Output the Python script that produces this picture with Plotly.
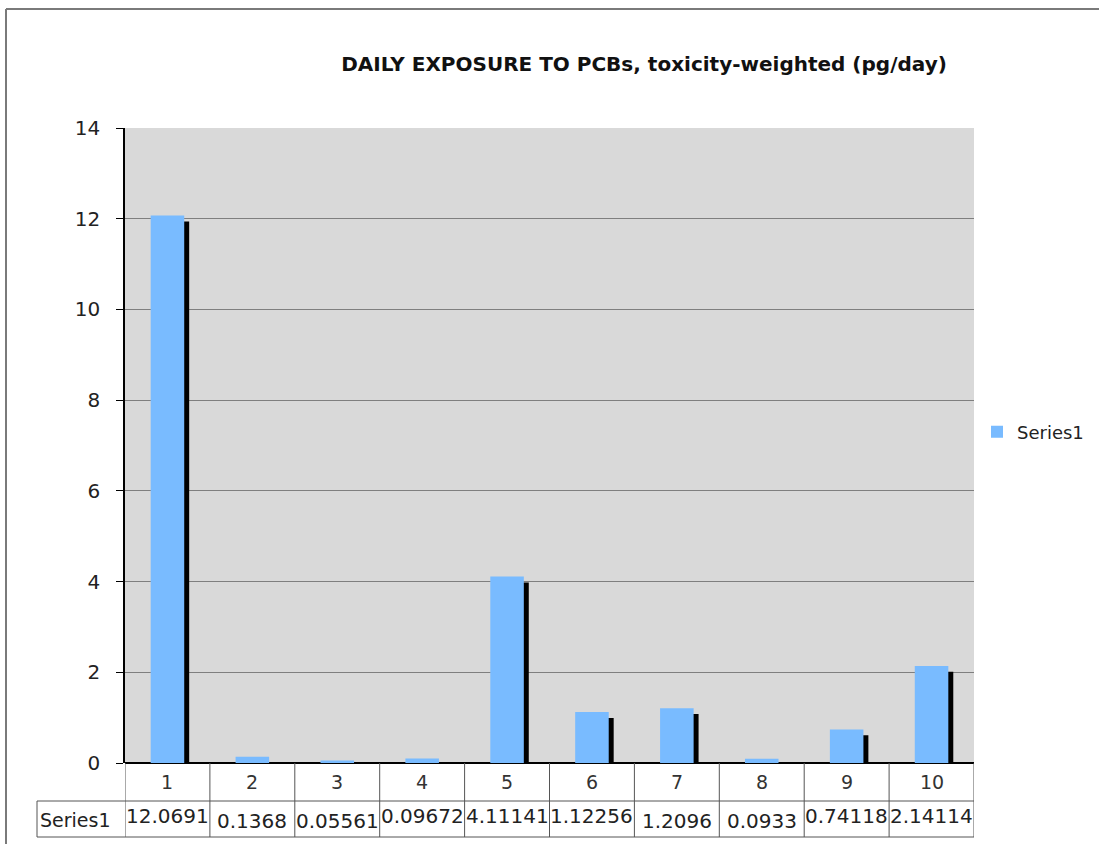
import plotly.graph_objects as go

categories = ["1", "2", "3", "4", "5", "6", "7", "8", "9", "10"]
values = [12.06913, 0.1368, 0.05561, 0.096727, 4.111416, 1.122564, 1.2096, 0.0933, 0.741184, 2.141148]
cell_labels = ["12.0691", "0.1368", "0.05561", "0.09672", "4.11141", "1.12256", "1.2096", "0.0933", "0.74118", "2.14114"]
wrapped = [True, False, False, True, True, True, False, False, True, True]
series_name = "Series1"
title_text = "DAILY EXPOSURE TO PCBs, toxicity-weighted (pg/day)"

W, H = 1099, 844
L, R, T, B = 125, 974, 128, 763
FONT = "DejaVu Sans"

def px(p):
    return (p - L) / (R - L)

def py(p):
    return (B - p) / (B - T)

xs = list(range(1, len(categories) + 1))
shadow_shift = 0.13

fig = go.Figure()
fig.add_trace(go.Bar(
    x=xs, y=values, base=-shadow_shift, width=0.395, offset=-0.139,
    marker=dict(color="#000000", line=dict(width=0)), showlegend=False, hoverinfo="skip",
))
fig.add_trace(go.Bar(
    x=xs, y=values, width=0.395, offset=-0.1975, name=series_name,
    marker=dict(color="#79bbff", line=dict(width=0)),
))

shapes = []
line_col = "#555555"
for i in range(len(categories) + 1):
    shapes.append(dict(type="line", xref="x", yref="paper", x0=0.5 + i, x1=0.5 + i,
                       y0=py(763), y1=py(837), line=dict(color=line_col, width=1)))
for yy in (801, 837):
    shapes.append(dict(type="line", xref="paper", yref="paper", x0=px(37), x1=px(974),
                       y0=py(yy), y1=py(yy), line=dict(color=line_col, width=1)))
shapes.append(dict(type="line", xref="paper", yref="paper", x0=px(37), x1=px(37),
                   y0=py(801), y1=py(837), line=dict(color=line_col, width=1)))
shapes.append(dict(type="line", xref="paper", yref="paper", x0=px(6), x1=px(1099),
                   y0=py(9), y1=py(9), line=dict(color="#7a7a7a", width=2)))
shapes.append(dict(type="line", xref="paper", yref="paper", x0=px(6), x1=px(6),
                   y0=py(9), y1=py(844), line=dict(color="#7a7a7a", width=2)))

annotations = []
for x, c in zip(xs, categories):
    annotations.append(dict(x=x, y=py(782), xref="x", yref="paper", text=c, showarrow=False,
                            font=dict(family=FONT, size=19, color="#333"), yanchor="middle"))
for x, lab, w in zip(xs, cell_labels, wrapped):
    annotations.append(dict(x=x, y=py(816 if w else 821), xref="x", yref="paper", text=lab,
                            showarrow=False, font=dict(family=FONT, size=20, color="#222"),
                            yanchor="middle"))
annotations.append(dict(x=px(38), y=py(820), xref="paper", yref="paper", text=series_name,
                        showarrow=False, xanchor="left", yanchor="middle",
                        font=dict(family=FONT, size=19, color="#222")))

fig.update_layout(
    width=W, height=H,
    margin=dict(l=L, r=W - R, t=T, b=H - B, autoexpand=False),
    paper_bgcolor="white", plot_bgcolor="#d9d9d9",
    barmode="overlay",
    title=dict(text="<b>" + title_text + "</b>", x=644 / W, y=1 - 64 / H, xref="container",
               yref="container", xanchor="center", yanchor="middle",
               font=dict(family=FONT, size=20, color="#111")),
    xaxis=dict(range=[0.5, len(categories) + 0.5], showticklabels=False, showgrid=False,
               zeroline=False, showline=False, ticks=""),
    yaxis=dict(range=[0, 14], dtick=2, showgrid=True, gridcolor="#7f7f7f", gridwidth=1,
               zeroline=True, zerolinecolor="#000", zerolinewidth=1.5,
               showline=True, linecolor="#000", linewidth=1.5,
               ticks="outside", ticklen=7, tickcolor="#000", ticklabelstandoff=12,
               tickfont=dict(family=FONT, size=20, color="#222")),
    legend=dict(x=px(977), y=py(432), xanchor="left", yanchor="middle", xref="paper",
                font=dict(family=FONT, size=18, color="#222"), bgcolor="rgba(0,0,0,0)",
                itemwidth=30, borderwidth=0),
    shapes=shapes, annotations=annotations,
    showlegend=True,
)

fig.write_html(
    "out.html",
    config={"displayModeBar": False},
    post_script="document.body.style.margin='0';document.body.style.overflow='hidden';"
)
